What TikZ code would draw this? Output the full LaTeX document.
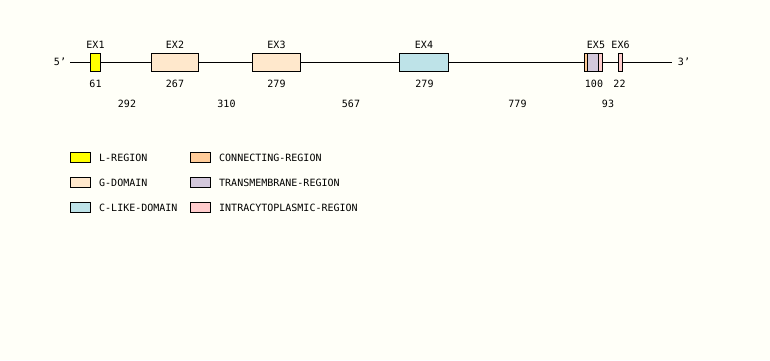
\documentclass[tikz,border=0pt]{standalone}
\usepackage{fontspec}
\setmainfont{DejaVu Sans Mono}
\definecolor{bg}{HTML}{FFFFF8}
\definecolor{lreg}{HTML}{FFFF00}
\definecolor{gdom}{HTML}{FFE8CC}
\definecolor{cdom}{HTML}{BEE3E8}
\definecolor{conn}{HTML}{FFCC99}
\definecolor{tm}{HTML}{D3C8DB}
\definecolor{intra}{HTML}{FFCCCC}
\tikzset{
  lbl/.style={font=\fontsize{10}{10}\selectfont, inner sep=0pt, anchor=center},
  exbox/.style={draw=black, line width=1pt},
  legbox/.style={draw=black, line width=0.8pt},
  legtxt/.style={font=\fontsize{10}{10}\selectfont, inner sep=0pt, anchor=west}
}
\begin{document}
\begin{tikzpicture}[x=1pt,y=-1pt]
\fill[bg] (0,0) rectangle (770,360);
\useasboundingbox (0,0) rectangle (770,360);
% gene line
\coordinate (L0) at (70,62);
\coordinate (L1) at (672,62);
\draw[line width=1pt] (L0) -- (L1);
\node[lbl] (p5) at (60,62) {5'};
\node[lbl] (p3) at (684,62) {3'};
% exons
\draw[exbox, fill=lreg] (90.5,53.5) rectangle (100.5,71.5);
\draw[exbox, fill=gdom] (151.5,53.5) rectangle (198.5,71.5);
\draw[exbox, fill=gdom] (252.5,53.5) rectangle (300.5,71.5);
\draw[exbox, fill=cdom] (399.5,53.5) rectangle (448.5,71.5);
\fill[conn] (584.5,53.5) rectangle (587.5,71.5);
\fill[tm] (587.5,53.5) rectangle (598.5,71.5);
\fill[intra] (598.5,53.5) rectangle (602.5,71.5);
\draw[line width=1pt] (587.5,53.5) -- (587.5,71.5);
\draw[line width=1pt] (598.5,53.5) -- (598.5,71.5);
\draw[exbox] (584.5,53.5) rectangle (602.5,71.5);
\draw[exbox, fill=intra] (618.5,53.5) rectangle (622.5,71.5);
% exon labels
\node[lbl] (e1) at (95.5,45) {EX1};
\node[lbl] (e2) at (175,45) {EX2};
\node[lbl] (e3) at (276.5,45) {EX3};
\node[lbl] (e4) at (424,45) {EX4};
\node[lbl] (e5) at (596,45) {EX5};
\node[lbl] (e6) at (620.5,45) {EX6};
% exon sizes
\node[lbl] (s1) at (95.5,84) {61};
\node[lbl] (s2) at (175,84) {267};
\node[lbl] (s3) at (276.5,84) {279};
\node[lbl] (s4) at (424.5,84) {279};
\node[lbl] (s5) at (594,84) {100};
\node[lbl] (s6) at (619.5,84) {22};
% intron sizes
\node[lbl] (i1) at (127,104) {292};
\node[lbl] (i2) at (226.5,104) {310};
\node[lbl] (i3) at (351,104) {567};
\node[lbl] (i4) at (517.5,104) {779};
\node[lbl] (i5) at (608,104) {93};
% legend
\draw[legbox, fill=lreg] (70.5,152.5) rectangle (90.5,162.5);
\node[legtxt] (t1) at (99,157.5) {L-REGION};
\draw[legbox, fill=gdom] (70.5,177.5) rectangle (90.5,187.5);
\node[legtxt] (t2) at (99,182.5) {G-DOMAIN};
\draw[legbox, fill=cdom] (70.5,202.5) rectangle (90.5,212.5);
\node[legtxt] (t3) at (99,207.5) {C-LIKE-DOMAIN};
\draw[legbox, fill=conn] (190.5,152.5) rectangle (210.5,162.5);
\node[legtxt] (t4) at (219,157.5) {CONNECTING-REGION};
\draw[legbox, fill=tm] (190.5,177.5) rectangle (210.5,187.5);
\node[legtxt] (t5) at (219,182.5) {TRANSMEMBRANE-REGION};
\draw[legbox, fill=intra] (190.5,202.5) rectangle (210.5,212.5);
\node[legtxt] (t6) at (219,207.5) {INTRACYTOPLASMIC-REGION};
\end{tikzpicture}
\end{document}
